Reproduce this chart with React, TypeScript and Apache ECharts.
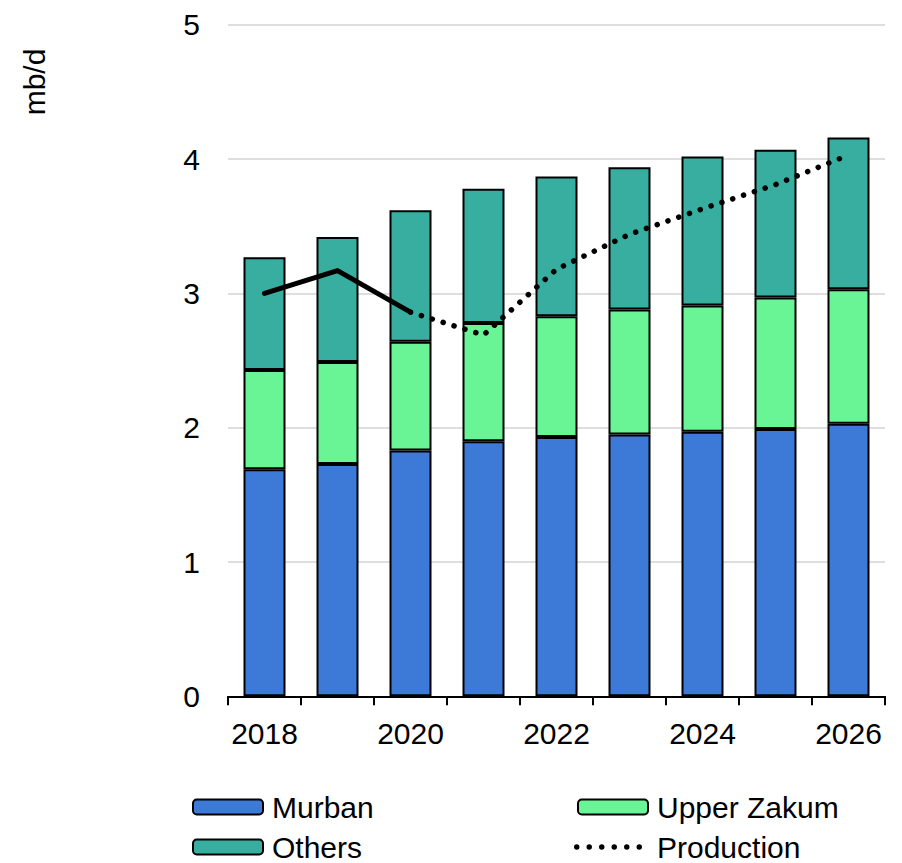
import React, { useEffect, useRef } from "react";
import * as echarts from "echarts";

const years = ["2018", "2019", "2020", "2021", "2022", "2023", "2024", "2025", "2026"];
const murban = [1.69, 1.73, 1.83, 1.9, 1.93, 1.95, 1.97, 1.99, 2.03];
const upperZakum = [0.74, 0.76, 0.81, 0.88, 0.9, 0.93, 0.94, 0.98, 1.0];
const others = [0.84, 0.93, 0.98, 1.0, 1.04, 1.06, 1.11, 1.1, 1.13];
const productionActual = [3.0, 3.17, 2.86, null, null, null, null, null, null];
const productionForecast = [null, null, 2.86, 2.69, 3.18, 3.44, 3.63, 3.81, 4.03];
const yTicks = [0, 1, 2, 3, 4, 5];

const FONT = "Arial, 'Liberation Sans', sans-serif";
const FS = 30;

function dotsPath(): string {
  const r = 2.7;
  const cy = 3;
  let d = "";
  for (let i = 0; i < 6; i++) {
    const cx = 3 + i * 12.4;
    d += `M${cx - r} ${cy} a${r} ${r} 0 1 0 ${2 * r} 0 a${r} ${r} 0 1 0 ${-2 * r} 0 Z `;
  }
  return "path://" + d.trim();
}

export default function App() {
  const ref = useRef<HTMLDivElement>(null);
  useEffect(() => {
    if (!ref.current) return;
    const chart = echarts.init(ref.current, null, { renderer: "svg" });
    const barBase = {
      type: "bar",
      stack: "total",
      barWidth: 42,
      itemStyle: { borderColor: "#000", borderWidth: 2 },
      emphasis: { disabled: true },
    };
    const legendBase = {
      orient: "horizontal",
      padding: 0,
      itemWidth: 70,
      itemHeight: 15,
      selectedMode: false,
      textStyle: { fontSize: FS, color: "#000", fontFamily: FONT, lineHeight: 26, padding: [0, 0, 0, 4] },
    };
    chart.setOption({
      animation: false,
      textStyle: { fontFamily: FONT },
      grid: { left: 228, right: 17, top: 24.8, bottom: 166.7 },
      xAxis: {
        type: "category",
        data: years,
        boundaryGap: true,
        axisLine: { lineStyle: { color: "#000", width: 2 } },
        axisTick: { show: true, interval: 0, alignWithLabel: false, length: 9, lineStyle: { color: "#000", width: 2 } },
        axisLabel: { interval: 1, fontSize: FS, color: "#000", fontFamily: FONT, margin: 22 },
        splitLine: { show: false },
      },
      yAxis: {
        type: "value",
        min: yTicks[0],
        max: yTicks[yTicks.length - 1],
        interval: 1,
        axisLine: { show: false },
        axisTick: { show: false },
        axisLabel: { fontSize: FS, color: "#000", fontFamily: FONT, margin: 28 },
        splitLine: { lineStyle: { color: "#dedede", width: 2 } },
      },
      legend: [
        { ...legendBase, left: 192, top: 792, data: ["Murban"] },
        { ...legendBase, left: 577, top: 792, data: ["Upper Zakum"] },
        { ...legendBase, left: 192, top: 832, data: ["Others"] },
        {
          ...legendBase,
          left: 574,
          top: 832,
          itemWidth: 68,
          itemHeight: 6,
          textStyle: { ...legendBase.textStyle, padding: [0, 0, 0, 10] },
          data: [{ name: "Production", icon: dotsPath() }],
        },
      ],
      graphic: [
        {
          type: "text",
          x: 34,
          y: 82,
          rotation: Math.PI / 2,
          style: {
            text: "mb/d",
            fontSize: FS,
            fontFamily: FONT,
            fill: "#000",
            textAlign: "center",
            textVerticalAlign: "middle",
          },
        },
      ],
      series: [
        { ...barBase, name: "Murban", data: murban, itemStyle: { ...barBase.itemStyle, color: "#3d79d6" } },
        { ...barBase, name: "Upper Zakum", data: upperZakum, itemStyle: { ...barBase.itemStyle, color: "#69f595" } },
        { ...barBase, name: "Others", data: others, itemStyle: { ...barBase.itemStyle, color: "#38aea0" } },
        {
          type: "line",
          name: "Production (actual)",
          data: productionActual,
          symbol: "none",
          connectNulls: false,
          z: 5,
          lineStyle: { color: "#000", width: 5, cap: "round", join: "round" },
          emphasis: { disabled: true },
        },
        {
          type: "line",
          name: "Production",
          data: productionForecast,
          symbol: "none",
          connectNulls: false,
          z: 5,
          itemStyle: { color: "#000" },
          lineStyle: { color: "#000", width: 5.5, type: [0.1, 11.3], cap: "round" },
          emphasis: { disabled: true },
        },
      ],
    });
    return () => chart.dispose();
  }, []);
  return (
    <div
      ref={ref}
      style={{ position: "fixed", left: 0, top: 0, width: 902, height: 863, background: "#fff" }}
    />
  );
}
